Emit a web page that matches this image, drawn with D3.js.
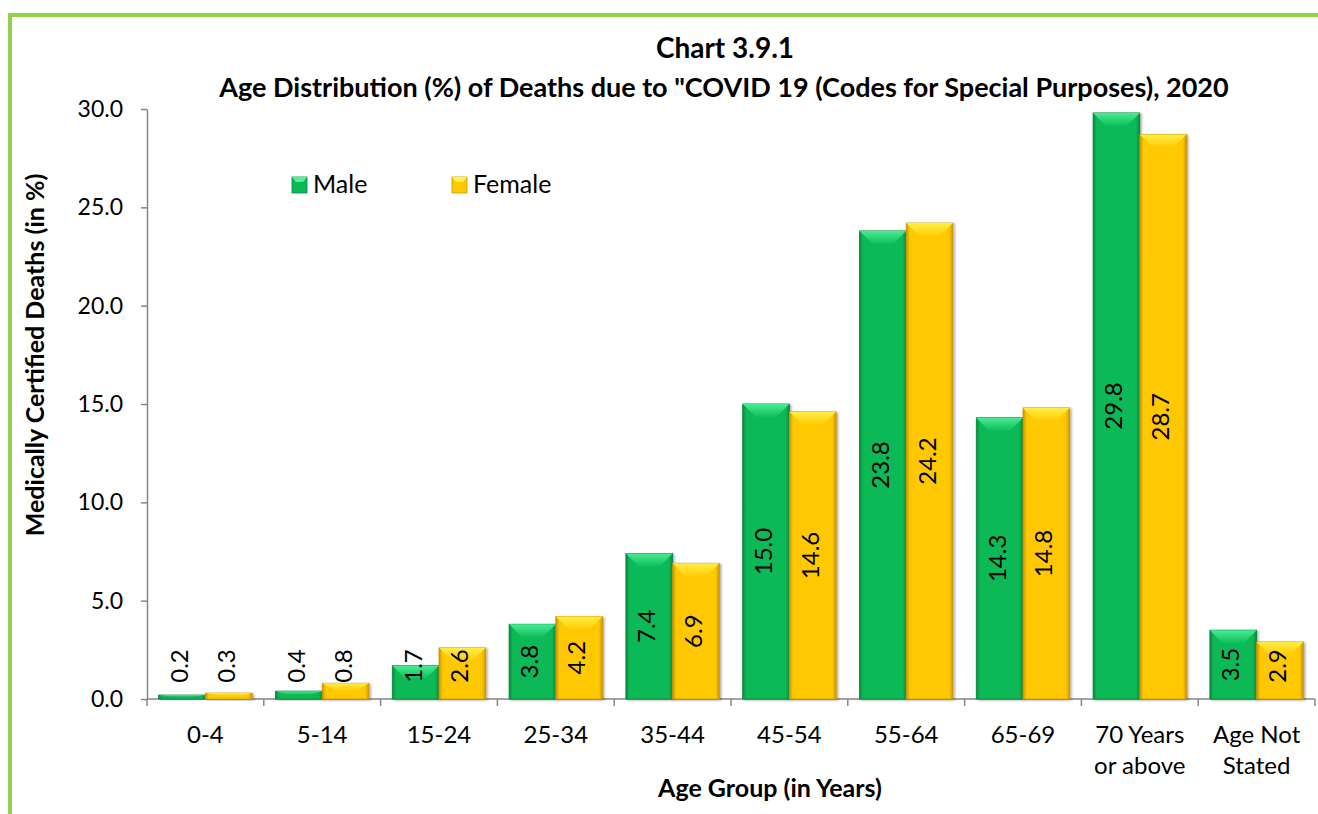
<!DOCTYPE html>
<html>
<head>
<meta charset="utf-8">
<script src="https://cdn.jsdelivr.net/npm/d3@7"></script>
<style>
  body { margin: 0; background: #fff; }
  text { font-family: Lato, "Open Sans", sans-serif; }
</style>
</head>
<body>
<div id="chart"></div>
<script>
// data
var ageGroups = ["0-4", "5-14", "15-24", "25-34", "35-44", "45-54", "55-64", "65-69", "70 Years|or above", "Age Not|Stated"];
var maleValues = [0.2, 0.4, 1.7, 3.8, 7.4, 15.0, 23.8, 14.3, 29.8, 3.5];
var femaleValues = [0.3, 0.8, 2.6, 4.2, 6.9, 14.6, 24.2, 14.8, 28.7, 2.9];
var seriesNames = ["Male", "Female"];
var yTicks = [0, 5, 10, 15, 20, 25, 30];

var width = 1318, height = 814;
var margin = { left: 147, right: 3, top: 109, bottom: 115 };
var colors = { Male: "#0bb956", Female: "#ffc800" };
var edge = { Male: "#07873f", Female: "#c99600" };
var light = { Male: "#4ff29a", Female: "#fff34d" };

var svg = d3.select("#chart").append("svg")
  .attr("width", width).attr("height", height);

var defs = svg.append("defs");
seriesNames.forEach(function(s) {
  var g = defs.append("linearGradient").attr("id", "grad" + s)
    .attr("x1", 0).attr("x2", 1).attr("y1", 0).attr("y2", 0);
  g.append("stop").attr("offset", "0").attr("stop-color", edge[s]);
  g.append("stop").attr("offset", "0.08").attr("stop-color", colors[s]);
  g.append("stop").attr("offset", "0.92").attr("stop-color", colors[s]);
  g.append("stop").attr("offset", "1").attr("stop-color", edge[s]);
  var t = defs.append("linearGradient").attr("id", "top" + s)
    .attr("x1", 0).attr("x2", 0).attr("y1", 0).attr("y2", 1);
  t.append("stop").attr("offset", "0").attr("stop-color", light[s]);
  t.append("stop").attr("offset", "1").attr("stop-color", colors[s]);
});
var shadow = defs.append("filter").attr("id", "shadow")
  .attr("x", "-10%").attr("y", "-10%").attr("width", "130%").attr("height", "130%");
shadow.append("feDropShadow").attr("dx", 1.5).attr("dy", 1).attr("stdDeviation", 1.2)
  .attr("flood-color", "#000").attr("flood-opacity", 0.35);

// frame
svg.append("rect")
  .attr("x", 10).attr("y", 15).attr("width", width + 20).attr("height", height + 20)
  .attr("fill", "none").attr("stroke", "#92d050").attr("stroke-width", 4);

var x0 = d3.scaleBand().domain(ageGroups)
  .range([margin.left, width - margin.right]).paddingInner(0.2).paddingOuter(0.1);
var x1 = d3.scaleBand().domain(seriesNames).range([0, x0.bandwidth()]);
var y = d3.scaleLinear().domain([0, 30]).range([height - margin.bottom, margin.top]);

// title
var title = svg.append("text").attr("text-anchor", "middle")
  .attr("font-weight", "bold").attr("font-size", 27).attr("fill", "#000");
title.append("tspan").attr("x", 725).attr("y", 58).attr("font-size", 28).text("Chart 3.9.1");
title.append("tspan").attr("x", 724).attr("y", 97)
  .text("Age Distribution (%) of Deaths due to \"COVID 19 (Codes for Special Purposes), 2020");

// y axis
var yAxis = svg.append("g").attr("transform", "translate(" + margin.left + ",0)")
  .call(d3.axisLeft(y).tickValues(yTicks).tickSize(6).tickSizeOuter(0).tickFormat(d3.format(".1f")));
yAxis.select(".domain").attr("stroke", "#868686").attr("stroke-width", 1.5);
yAxis.selectAll(".tick line").attr("stroke", "#868686").attr("stroke-width", 1.5);
yAxis.selectAll(".tick text").attr("font-size", 23).attr("fill", "#000")
  .attr("font-family", "Lato, sans-serif").attr("x", -24);

// x axis
var baseY = y(0);
var xAxis = svg.append("g");
xAxis.append("line")
  .attr("x1", margin.left).attr("x2", width - margin.right)
  .attr("y1", baseY).attr("y2", baseY)
  .attr("stroke", "#868686").attr("stroke-width", 1.5);
var step = x0.step();
var bounds = d3.range(ageGroups.length + 1).map(function(i) { return margin.left + i * step; });
xAxis.selectAll(".xtick").data(bounds).enter().append("line")
  .attr("x1", function(d) { return d; }).attr("x2", function(d) { return d; })
  .attr("y1", baseY).attr("y2", baseY + 7)
  .attr("stroke", "#868686").attr("stroke-width", 1.5);

var catLabels = xAxis.selectAll(".cat").data(ageGroups).enter().append("text")
  .attr("text-anchor", "middle").attr("font-size", 24).attr("fill", "#000");
catLabels.each(function(d) {
  var cx = x0(d) + x0.bandwidth() / 2;
  var parts = d.split("|");
  var t = d3.select(this);
  parts.forEach(function(p, i) {
    t.append("tspan").attr("x", cx).attr("y", 743 + i * 31).text(p);
  });
});

// axis titles
svg.append("text").attr("x", 770).attr("y", 797).attr("text-anchor", "middle")
  .attr("font-weight", "bold").attr("font-size", 25).text("Age Group (in Years)");
svg.append("text").attr("transform", "translate(44,355) rotate(-90)")
  .attr("text-anchor", "middle").attr("font-weight", "bold").attr("font-size", 25)
  .text("Medically Certified Deaths (in %)");

// bars
var rows = ageGroups.map(function(g, i) {
  return { group: g, values: [
    { s: "Male", v: maleValues[i] },
    { s: "Female", v: femaleValues[i] }
  ] };
});

var groups = svg.selectAll(".grp").data(rows).enter().append("g")
  .attr("transform", function(d) { return "translate(" + x0(d.group) + ",0)"; });

var bar = groups.selectAll(".bar").data(function(d) { return d.values; }).enter().append("g");

bar.append("rect")
  .attr("x", function(d) { return x1(d.s); })
  .attr("y", function(d) { return y(d.v); })
  .attr("width", x1.bandwidth())
  .attr("height", function(d) { return baseY - y(d.v); })
  .attr("fill", function(d) { return "url(#grad" + d.s + ")"; })
  .attr("stroke", function(d) { return edge[d.s]; })
  .attr("stroke-width", 0.8)
  .attr("filter", "url(#shadow)");

// bevel on top
bar.append("path")
  .attr("d", function(d) {
    var xa = x1(d.s), w = x1.bandwidth(), top = y(d.v);
    var h = Math.min(14, (baseY - top) / 2);
    return "M" + xa + "," + top + "L" + (xa + w) + "," + top +
      "L" + (xa + w - 14) + "," + (top + h) + "L" + (xa + 14) + "," + (top + h) + "Z";
  })
  .attr("fill", function(d) { return "url(#top" + d.s + ")"; })
  .attr("opacity", 0.9);

// data labels
bar.append("text")
  .attr("transform", function(d) {
    var cx = x1(d.s) + x1.bandwidth() / 2;
    var cy = Math.min(y(d.v / 2), baseY - 33);
    return "translate(" + (cx + 6) + "," + cy + ") rotate(-90)";
  })
  .attr("text-anchor", "middle").attr("font-size", 24).attr("fill", "#000")
  .text(function(d) { return d3.format(".1f")(d.v); });

// legend
var legend = svg.append("g");
var legX = [292, 452];
seriesNames.forEach(function(s, i) {
  var lg = legend.append("g").attr("transform", "translate(" + legX[i] + ",177)");
  lg.append("rect").attr("width", 15).attr("height", 16)
    .attr("fill", colors[s]).attr("stroke", edge[s]).attr("stroke-width", 0.8);
  lg.append("path").attr("d", "M0,0L15,0L11,5L4,5Z").attr("fill", light[s]);
  lg.append("text").attr("x", 21).attr("y", 16).attr("font-size", 25).text(s);
});
</script>
</body>
</html>
